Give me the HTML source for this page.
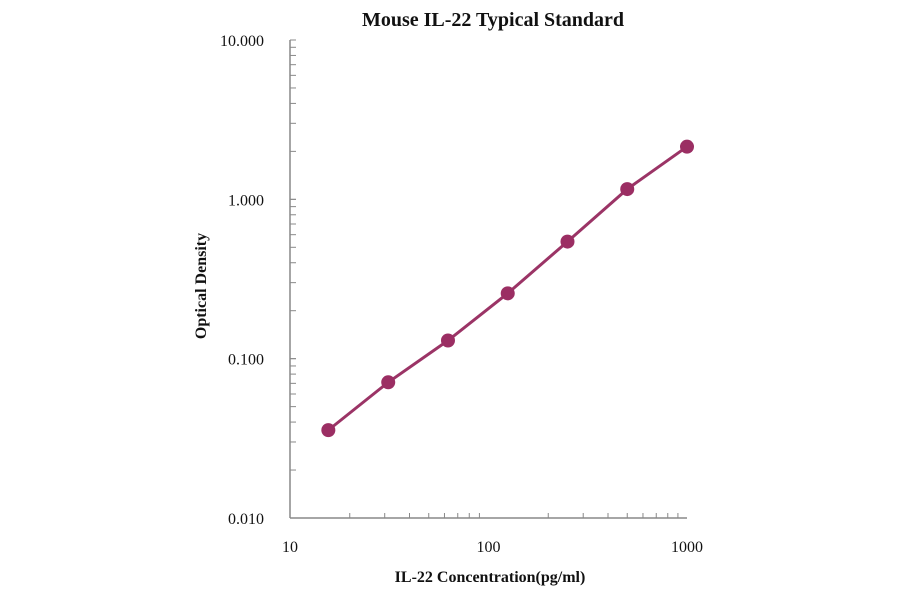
<!DOCTYPE html>
<html><head><meta charset="utf-8"><style>
html,body{margin:0;padding:0;background:#fff;}
svg text{font-family:"Liberation Serif",serif;fill:#111;}
</style></head><body>
<svg width="900" height="594" viewBox="0 0 900 594">
<text x="493" y="26" font-size="20" font-weight="bold" text-anchor="middle">Mouse IL-22 Typical  Standard</text>
<text transform="translate(206,286) rotate(-90)" font-size="16" font-weight="bold" text-anchor="middle">Optical  Density</text>
<text x="490" y="582" font-size="16" font-weight="bold" text-anchor="middle">IL-22  Concentration(pg/ml)</text>
<g id="axes"></g>
<g id="marks"></g>
</svg>
<script>
const xValues=[15.6,31.25,62.5,125,250,500,1000];
const yValues=[0.0356,0.0711,0.130,0.257,0.543,1.16,2.14];
const xTicks=[10,100,1000];
const xTickLabels=["10","100","1000"];
const yTicks=[0.01,0.1,1,10];
const yTickLabels=["0.010","0.100","1.000","10.000"];
const X0=290,X1=687,Y0=518,Y1=40;
const sx=v=>X0+(Math.log10(v)-1)/2*(X1-X0);
const sy=v=>Y0-(Math.log10(v)+2)/3*(Y0-Y1);
const NS="http://www.w3.org/2000/svg";
function mk(tag,at,parent){const e=document.createElementNS(NS,tag);for(const k in at)e.setAttribute(k,at[k]);parent.appendChild(e);return e;}
const ax=document.getElementById('axes');
let l=mk('line',{x1:X0,y1:Y0,x2:X1,y2:Y0,stroke:'#888','stroke-width':1.5},ax);


l=mk('line',{x1:X0,y1:Y0,x2:X0,y2:Y1,stroke:'#888','stroke-width':1.5},ax);


for(let d=10;d<1000;d*=10){for(let m=1;m<=10;m++){const x=sx(d*m);
 const t=mk('line',{x1:x,y1:Y0,x2:x,y2:Y0-(m==1||m==10?0:5),stroke:'#888','stroke-width':1},ax);
 
 }}
for(let d=0.01;d<10;d*=10){for(let m=1;m<=10;m++){const y=sy(d*m);
 const t=mk('line',{x1:X0,y1:y,x2:X0+6,y2:y,stroke:'#888','stroke-width':1},ax);
 
 }}
xTicks.forEach((v,i)=>{const t=mk('text',{x:sx(v),y:Y0+34,'font-size':16,'text-anchor':'middle',fill:'#333'},ax);t.textContent=xTickLabels[i];
 
 });
yTicks.forEach((v,i)=>{const t=mk('text',{x:X0-26,y:sy(v)+6,'font-size':16,'text-anchor':'end',fill:'#333'},ax);t.textContent=yTickLabels[i];
 
 });
const mg=document.getElementById('marks');
const p=mk('polyline',{points:xValues.map((x,i)=>sx(x)+','+sy(yValues[i])).join(' '),fill:'none',stroke:'#9b3466','stroke-width':3},mg);


xValues.forEach((x,i)=>{const c=mk('circle',{cx:sx(x),cy:sy(yValues[i]),r:7,fill:'#9b2e63'},mg);
 
 });
</script>
</body></html>
